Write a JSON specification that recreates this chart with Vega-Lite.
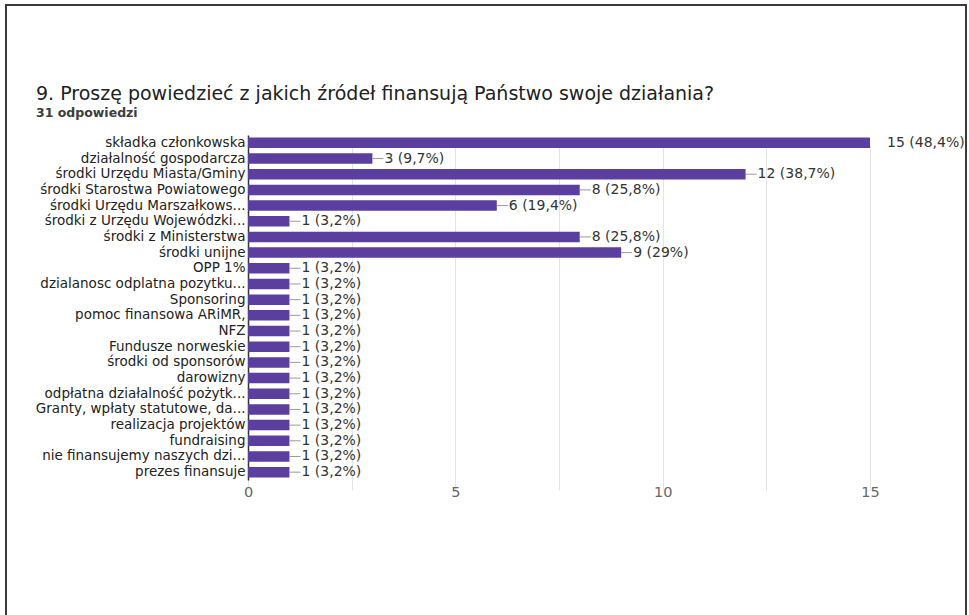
{
  "$schema": "https://vega.github.io/schema/vega-lite/v6.json",
  "width": 960,
  "height": 615,
  "autosize": {"type": "none"},
  "padding": {"left": 6, "top": 5, "right": 3, "bottom": 0},
  "background": "white",
  "config": {
    "view": {"stroke": "#3a3a3a", "strokeWidth": 2},
    "font": "DejaVu Sans"
  },
  "title": {
    "text": "9. Proszę powiedzieć z jakich źródeł finansują Państwo swoje działania?",
    "subtitle": "31 odpowiedzi",
    "anchor": "start",
    "frame": "group",
    "orient": "top",
    "offset": -114,
    "dx": 30,
    "font": "DejaVu Sans",
    "fontSize": 19,
    "fontWeight": "normal",
    "color": "#202124",
    "subtitleFont": "DejaVu Sans",
    "subtitleFontSize": 12.5,
    "subtitleFontWeight": "bold",
    "subtitleColor": "#3c3c3c",
    "subtitlePadding": 3
  },
  "data": {
    "values": [
      {"source": "składka członkowska", "count": 15, "label": "15 (48,4%)"},
      {"source": "działalność gospodarcza", "count": 3, "label": "3 (9,7%)"},
      {"source": "środki Urzędu Miasta/Gminy", "count": 12, "label": "12 (38,7%)"},
      {"source": "środki Starostwa Powiatowego", "count": 8, "label": "8 (25,8%)"},
      {"source": "środki Urzędu Marszałkows...", "count": 6, "label": "6 (19,4%)"},
      {"source": "środki z Urzędu Wojewódzki...", "count": 1, "label": "1 (3,2%)"},
      {"source": "środki z Ministerstwa", "count": 8, "label": "8 (25,8%)"},
      {"source": "środki unijne", "count": 9, "label": "9 (29%)"},
      {"source": "OPP 1%", "count": 1, "label": "1 (3,2%)"},
      {"source": "dzialanosc odplatna pozytku...", "count": 1, "label": "1 (3,2%)"},
      {"source": "Sponsoring", "count": 1, "label": "1 (3,2%)"},
      {"source": "pomoc finansowa ARiMR,", "count": 1, "label": "1 (3,2%)"},
      {"source": "NFZ", "count": 1, "label": "1 (3,2%)"},
      {"source": "Fundusze norweskie", "count": 1, "label": "1 (3,2%)"},
      {"source": "środki od sponsorów", "count": 1, "label": "1 (3,2%)"},
      {"source": "darowizny", "count": 1, "label": "1 (3,2%)"},
      {"source": "odpłatna działalność pożytk...", "count": 1, "label": "1 (3,2%)"},
      {"source": "Granty, wpłaty statutowe, da...", "count": 1, "label": "1 (3,2%)"},
      {"source": "realizacja projektów", "count": 1, "label": "1 (3,2%)"},
      {"source": "fundraising", "count": 1, "label": "1 (3,2%)"},
      {"source": "nie finansujemy naszych dzi...", "count": 1, "label": "1 (3,2%)"},
      {"source": "prezes finansuje", "count": 1, "label": "1 (3,2%)"}
    ]
  },
  "encoding": {
    "y": {
      "field": "source",
      "type": "nominal",
      "sort": null,
      "scale": {"range": [130, 475], "paddingInner": 0.33, "paddingOuter": 0.165},
      "axis": {
        "title": null,
        "offset": -242,
        "domain": true,
        "domainColor": "#333333",
        "domainWidth": 1.5,
        "ticks": false,
        "grid": false,
        "labelPadding": 3,
        "labelFontSize": 13.5,
        "labelColor": "#222222",
        "labelLimit": 0
      }
    }
  },
  "layer": [
    {
      "mark": {"type": "bar", "color": "#5b3f9f"},
      "encoding": {
        "x": {
          "field": "count",
          "type": "quantitative",
          "scale": {"domain": [0, 15], "range": [242, 864], "nice": false, "zero": true},
          "axis": {
            "orient": "bottom",
            "title": null,
            "offset": -139,
            "values": [0, 2.5, 5, 7.5, 10, 12.5, 15],
            "format": "d",
            "labelExpr": "datum.value % 5 === 0 ? datum.label : ''",
            "labelFlush": false,
            "labelOverlap": false,
            "domain": false,
            "ticks": false,
            "grid": true,
            "gridColor": "#e4e4e4",
            "gridWidth": 1,
            "labelColor": "#666666",
            "labelFontSize": 14.5,
            "labelPadding": 4
          }
        }
      }
    },
    {
      "transform": [{"filter": "datum.count < 15"}],
      "mark": {"type": "rule", "color": "#9a9a9a", "strokeWidth": 1, "x2Offset": 11},
      "encoding": {
        "x": {"field": "count", "type": "quantitative"},
        "x2": {"field": "count"}
      }
    },
    {
      "transform": [{"filter": "datum.count < 15"}],
      "mark": {"type": "text", "align": "left", "baseline": "middle", "dx": 12, "fontSize": 14, "color": "#333333"},
      "encoding": {
        "x": {"field": "count", "type": "quantitative"},
        "text": {"field": "label"}
      }
    },
    {
      "transform": [{"filter": "datum.count >= 15"}],
      "mark": {"type": "text", "align": "left", "baseline": "middle", "dx": 17, "fontSize": 14, "color": "#333333"},
      "encoding": {
        "x": {"field": "count", "type": "quantitative"},
        "text": {"field": "label"}
      }
    }
  ]
}
